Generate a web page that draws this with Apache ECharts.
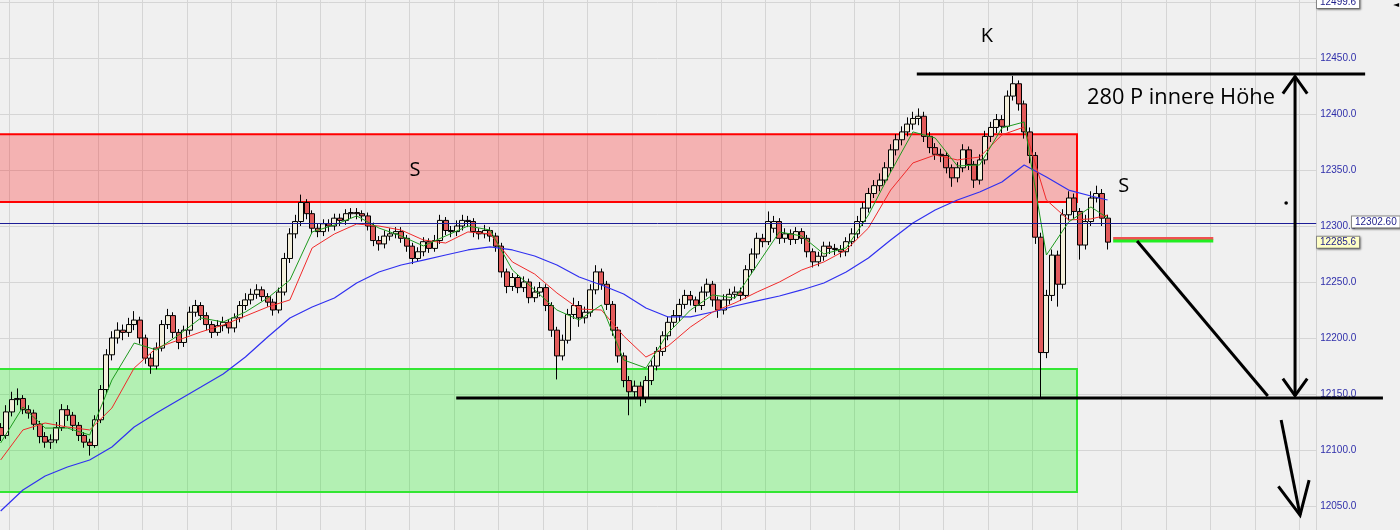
<!DOCTYPE html>
<html><head><meta charset="utf-8">
<script src="https://cdn.jsdelivr.net/npm/echarts@6/dist/echarts.min.js"></script>
<style>html,body{margin:0;padding:0;background:#f0f0f0;overflow:hidden}#c{width:1400px;height:530px}</style>
</head><body><div id="c"></div>
<script>
// ---- candle data (one entry per bar, left to right) ----
const opens = [
12120,12113,12134,12145,12146,12136,12133,12123,12112,12107,
12109,12120,12136,12131,12122,12113,12107,12104,12127,12154,
12185,12200,12207,12205,12212,12216,12200,12182,12175,12191,
12212,12220,12205,12196,12207,12223,12229,12220,12212,12205,
12211,12214,12209,12218,12229,12234,12239,12243,12237,12232,
12225,12241,12271,12293,12304,12321,12311,12298,12295,12302,
12300,12307,12305,12311,12312,12311,12309,12300,12287,12284,
12291,12293,12295,12289,12282,12271,12277,12286,12280,12287,
12305,12296,12295,12300,12305,12304,12295,12293,12296,12291,
12282,12259,12246,12254,12245,12250,12236,12241,12245,12229,
12207,12184,12198,12221,12229,12218,12223,12243,12259,12248,
12230,12207,12184,12162,12152,12157,12146,12162,12175,12188,
12202,12214,12220,12230,12238,12234,12229,12241,12248,12234,
12225,12234,12239,12241,12238,12261,12275,12289,12286,12298,
12304,12289,12293,12288,12295,12289,12277,12268,12273,12282,
12280,12279,12277,12286,12293,12304,12316,12329,12336,12341,
12352,12368,12377,12384,12391,12396,12398,12380,12370,12364,
12363,12352,12343,12352,12368,12355,12341,12359,12380,12388,
12395,12389,12416,12427,12409,12384,12363,12290,12187,12238,
12274,12248,12310,12325,12313,12283,12304,12325,12329,12307];
const closes = [
12113,12134,12145,12146,12136,12133,12123,12112,12107,12109,
12120,12136,12131,12122,12113,12107,12104,12127,12154,12185,
12200,12207,12205,12212,12216,12200,12182,12175,12191,12212,
12220,12205,12196,12207,12223,12229,12220,12212,12205,12211,
12214,12209,12218,12229,12234,12239,12243,12237,12232,12225,
12241,12271,12293,12304,12321,12311,12298,12295,12302,12300,
12307,12305,12311,12312,12311,12309,12300,12287,12284,12291,
12293,12295,12289,12282,12271,12277,12286,12280,12287,12305,
12296,12295,12300,12305,12304,12295,12293,12296,12291,12282,
12259,12246,12254,12245,12250,12236,12241,12245,12229,12207,
12184,12198,12221,12229,12218,12223,12243,12259,12248,12230,
12207,12184,12162,12152,12157,12146,12162,12175,12188,12202,
12214,12220,12230,12238,12234,12229,12241,12248,12234,12225,
12234,12239,12241,12238,12261,12275,12289,12286,12304,12304,
12289,12293,12288,12295,12289,12277,12268,12273,12282,12280,
12279,12277,12286,12293,12304,12316,12329,12336,12341,12352,
12368,12377,12384,12391,12396,12398,12380,12370,12364,12363,
12352,12343,12352,12368,12355,12341,12359,12380,12388,12395,
12389,12416,12427,12409,12384,12363,12290,12187,12238,12274,
12248,12310,12325,12313,12283,12304,12325,12329,12307,12285.6];
const lows = [
12108,12110,12130,12140,12132,12128,12118,12106,12102,12101,
12106,12117,12126,12117,12108,12102,12095,12102,12124,12150,
12180,12195,12198,12201,12207,12195,12177,12168,12172,12188,
12208,12200,12190,12192,12203,12219,12216,12207,12200,12202,
12206,12204,12205,12214,12225,12230,12235,12233,12228,12220,
12222,12238,12267,12289,12300,12306,12293,12290,12291,12295,
12296,12300,12301,12307,12306,12304,12296,12282,12278,12280,
12287,12289,12285,12277,12266,12268,12273,12276,12277,12284,
12292,12290,12291,12296,12299,12290,12288,12289,12286,12277,
12254,12240,12242,12240,12241,12231,12232,12237,12224,12201,
12163,12180,12195,12217,12210,12213,12219,12239,12243,12225,
12202,12178,12156,12131,12147,12139,12142,12158,12171,12184,
12198,12209,12215,12226,12229,12223,12225,12237,12228,12218,
12221,12230,12235,12233,12235,12257,12271,12281,12283,12294,
12284,12285,12283,12284,12284,12272,12263,12264,12269,12275,
12274,12272,12273,12282,12289,12300,12312,12325,12331,12337,
12348,12363,12372,12380,12386,12390,12375,12365,12359,12357,
12347,12335,12339,12348,12350,12334,12337,12355,12375,12383,
12383,12385,12412,12403,12378,12356,12284,12147,12182,12233,
12228,12244,12305,12306,12270,12279,12300,12321,12300,12279];
const highs = [
12124,12140,12152,12155,12149,12140,12136,12126,12116,12114,
12125,12141,12140,12134,12125,12116,12110,12131,12158,12190,
12206,12214,12212,12218,12224,12219,12203,12186,12196,12216,
12226,12223,12208,12211,12228,12234,12232,12223,12215,12216,
12219,12217,12222,12233,12240,12244,12248,12246,12240,12235,
12245,12276,12298,12310,12328,12324,12314,12302,12306,12306,
12311,12311,12315,12316,12316,12314,12312,12303,12291,12296,
12298,12299,12299,12292,12285,12281,12290,12289,12292,12310,
12308,12300,12305,12310,12309,12307,12298,12301,12299,12294,
12285,12262,12258,12257,12255,12253,12246,12250,12248,12232,
12210,12203,12226,12236,12233,12228,12248,12265,12262,12251,
12233,12210,12187,12166,12162,12161,12166,12180,12192,12206,
12219,12225,12235,12243,12242,12237,12246,12253,12251,12237,
12239,12244,12246,12245,12265,12280,12294,12293,12313,12309,
12307,12298,12297,12299,12298,12292,12280,12277,12286,12286,
12284,12283,12290,12298,12309,12321,12334,12341,12347,12357,
12373,12382,12389,12397,12402,12405,12402,12384,12374,12369,
12366,12355,12357,12373,12371,12358,12364,12385,12393,12400,
12399,12421,12434,12430,12412,12388,12366,12294,12243,12279,
12278,12315,12331,12329,12316,12310,12331,12336,12333,12310];

// ---- moving averages read at these bar numbers ----
const maIndex = [0,4,8,12,16,20,24,28,32,36,40,44,48,52,56,60,64,68,72,76,80,84,88,92,96,100,104,108,112,116,120,124,128,132,136,140,144,148,152,156,160,164,168,172,176,180,184,188,192,196,199];
const maBlue = [12045.5,12064.3,12076.8,12084.8,12091.1,12102.7,12120.5,12133,12144.7,12156.2,12167.9,12183,12200.9,12217.9,12227.7,12235.7,12249.1,12258.9,12265.2,12269.6,12274.1,12278.6,12281.3,12278.6,12273.2,12265.2,12254.5,12247.3,12239.3,12226.8,12218.8,12218.8,12223.2,12228.6,12233.1,12237.5,12242.9,12249.1,12258.9,12271.4,12287.5,12302.7,12314.3,12323.2,12330.4,12339.3,12354.5,12343.8,12332.1,12326.8,12323.2];
const maRed = [12091.1,12117.9,12124.1,12120.5,12117.9,12137.5,12173.2,12191.1,12198.2,12205.4,12211.6,12219.6,12227.7,12234,12280.4,12292.9,12301.8,12300,12296.4,12287.5,12284.8,12294.7,12292.9,12267.9,12257.1,12240.2,12225.9,12225,12201.8,12183,12192.9,12209.8,12223.2,12231.3,12241.1,12250,12260.7,12267.9,12278.6,12298.2,12332.1,12356.3,12363.4,12359,12361.6,12381.3,12388.4,12323.2,12305.4,12306.3,12309.8];
const maGreen = [12106.3,12138.4,12119.6,12119.6,12113.4,12162.5,12195.5,12189.3,12202.7,12217.9,12214.3,12223.2,12235.7,12251.8,12294.7,12300.9,12309,12298.2,12291.1,12282.2,12291.1,12300,12296.4,12260.7,12242.9,12225,12216.1,12229.5,12180.4,12173.2,12204.5,12225,12238.4,12235.7,12265.2,12294.7,12291.1,12275,12280.4,12309.8,12348.2,12384,12378.6,12353.6,12354.5,12387.5,12392.9,12274.1,12303.6,12317,12307.2];

// ---- levels and zones ----
const resistanceZone = [12382, 12321.4];
const supportZone = [12172.3, 12062.5];
const zoneEndBar = 200;
const lastPriceLine = 12302.6;
const lastPriceText = '12302.60';
const closeText = '12285.6';
const closeLevel = 12285.6;
const topText = '12499.6';
const redLevel = 12288.8, greenLevel = 12286.6;
const tickLabels = [12050,12100,12150,12200,12250,12300,12350,12400,12450];

const LEAD = 6;            // empty slots before the first bar
const SLOTS = 243;         // total slots on the time axis
const slots = [];
for (let i = 0; i < SLOTS; i++) slots.push('b' + i);

const candles = closes.map((c, k) => [k + LEAD, opens[k], c, lows[k], highs[k]]);
const maLine = arr => arr.map((v, j) => [maIndex[j] + LEAD + 0.5, v]);

const chart = echarts.init(document.getElementById('c'), null, {renderer: 'canvas'});
const option = {
  animation: false,
  backgroundColor: '#f0f0f0',
  grid: {left: -35.5, right: 83.8125, top: -54, bottom: -32, containLabel: false, outerBoundsMode: 'none'},
  xAxis: [
    {type: 'category', data: slots, boundaryGap: true, axisLine: {show: false}, axisTick: {show: false}, axisLabel: {show: false}, splitLine: {show: false}},
    {type: 'value', min: 0, max: SLOTS, interval: 8, axisLine: {show: false}, axisTick: {show: false}, axisLabel: {show: false},
     splitLine: {show: true, lineStyle: {color: '#d5d5d5', width: 1}}}
  ],
  yAxis: {type: 'value', position: 'right', min: 12000, max: 12550, interval: 50,
    axisLine: {show: false}, axisTick: {show: false},
    splitLine: {show: true, lineStyle: {color: '#d5d5d5', width: 1}},
    axisLabel: {margin: 4, color: '#2e2eaa', fontSize: 10, fontFamily: 'Liberation Sans, Arial, sans-serif',
      formatter: v => tickLabels.indexOf(v) >= 0 ? v.toFixed(1) : ''}},
  series: [
    {type: 'line', xAxisIndex: 1, yAxisIndex: 0, data: [[-20, 12300]], symbol: 'none', z: 1, lineStyle: {width: 0},
     markArea: {silent: true, data: [
       [{xAxis: 0, yAxis: resistanceZone[0], itemStyle: {color: 'rgba(255,0,0,0.26)', borderColor: '#ff0000', borderWidth: 2}},
        {xAxis: zoneEndBar, yAxis: resistanceZone[1]}],
       [{xAxis: 0, yAxis: supportZone[0], itemStyle: {color: 'rgba(20,240,20,0.28)', borderColor: '#33e633', borderWidth: 2}},
        {xAxis: zoneEndBar, yAxis: supportZone[1]}]
     ]},
     markLine: {silent: true, symbol: 'none', label: {show: false},
       lineStyle: {color: '#1c1c96', width: 1, type: 'solid'}, data: [{yAxis: lastPriceLine}]}
    },
    {type: 'candlestick', xAxisIndex: 0, yAxisIndex: 0, data: candles, encode: {x: 0, y: [1, 2, 3, 4]},
     barWidth: 5.5, z: 3,
     itemStyle: {color: '#f3efdc', color0: '#e25b5b', borderColor: '#000', borderColor0: '#000', borderWidth: 1}},
    {type: 'line', xAxisIndex: 1, data: maLine(maBlue), showSymbol: false, z: 4, lineStyle: {color: '#3030f0', width: 1.2}},
    {type: 'line', xAxisIndex: 1, data: maLine(maRed), showSymbol: false, z: 4, lineStyle: {color: '#f02a2a', width: 1}},
    {type: 'line', xAxisIndex: 1, data: maLine(maGreen), showSymbol: false, z: 4, lineStyle: {color: '#1e9a1e', width: 1}},
    {type: 'line', xAxisIndex: 1, data: [[206.5, redLevel], [224.5, redLevel]], showSymbol: false, z: 4, lineStyle: {color: '#f05050', width: 3}},
    {type: 'line', xAxisIndex: 1, data: [[206.5, greenLevel], [224.5, greenLevel]], showSymbol: false, z: 4, lineStyle: {color: '#22ee22', width: 3}}
  ]
};
chart.setOption(option);

// ---- drawn annotations, positioned through the chart's own scales ----
const px = (u, p) => chart.convertToPixel({xAxisIndex: 1, yAxisIndex: 0}, [u, p]);
const g = [];
const blk = {stroke: '#000', lineWidth: 3, lineCap: 'butt'};
function seg(a, b) { g.push({type: 'line', shape: {x1: a[0], y1: a[1], x2: b[0], y2: b[1]}, style: blk, z: 10}); }
function head(tip, from, len, ang) {
  const dx = from[0] - tip[0], dy = from[1] - tip[1];
  const d = Math.hypot(dx, dy), ux = dx / d, uy = dy / d;
  const r = a => [tip[0] + len * (ux * Math.cos(a) - uy * Math.sin(a)), tip[1] + len * (ux * Math.sin(a) + uy * Math.cos(a))];
  g.push({type: 'polyline', shape: {points: [r(ang), tip, r(-ang)]}, style: Object.assign({fill: null, lineJoin: 'miter'}, blk), z: 10});
}
function txt(p, s, size, align) {
  g.push({type: 'text', x: p[0], y: p[1], z: 11, style: {text: s, fill: '#000', font: size + 'px "Open Sans", sans-serif',
    align: align || 'center', verticalAlign: 'middle', textAlign: align || 'center', textVerticalAlign: 'middle'}});
}
seg(px(171.2, 12435.7), px(251.8, 12435.7));
seg(px(88.4, 12146.4), px(255, 12146.4));
const vTop = px(239.2, 12433.5), vBot = px(239.2, 12148.5);
seg(vTop, vBot); head(vTop, vBot, 21, 0.62); head(vBot, vTop, 21, 0.62);
seg(px(210.8, 12286.6), px(234.3, 12148.2));
const dA = px(236.7, 12126.8), dB = px(240.1, 12041.9);
seg(dA, dB); head(dB, dA, 36, 0.45);
const dot = px(237.6, 12320.5);
g.push({type: 'circle', shape: {cx: dot[0], cy: dot[1], r: 1.8}, style: {fill: '#000'}, z: 10});
txt(px(183.8, 12469.6), 'K', 20);
txt(px(81.0, 12350), 'S', 20);
txt(px(208.4, 12335.7), 'S', 20);
txt(px(201.8, 12414.3), '280 P innere Höhe', 21.8, 'left');

const lbl = (p, s, bg) => g.push({type: 'text', x: p[0], y: p[1], z: 12, style: {text: s, fill: '#1e1e8a',
  font: '10px "Liberation Sans", Arial, sans-serif', align: 'left', verticalAlign: 'middle', textAlign: 'left', textVerticalAlign: 'middle',
  backgroundColor: bg, borderColor: '#8a8a8a', borderWidth: 1, padding: [1, 3, 0, 3],
  shadowColor: 'rgba(0,0,0,0.35)', shadowBlur: 2, shadowOffsetX: 1, shadowOffsetY: 1}});
const lp = px(0, lastPriceLine), cp = px(0, closeLevel), tp = px(0, 12499.6);
lbl([1352, lp[1] - 1], lastPriceText, '#ffffff');
lbl([1317, cp[1]], closeText, '#ffffc6');
lbl([1317, tp[1]], topText, '#ffffff');
g.push({type: 'text', x: 1393, y: 5, z: 12, style: {text: '◄', fill: '#000', font: '8px "DejaVu Sans"', align: 'left', verticalAlign: 'middle', textAlign: 'left', textVerticalAlign: 'middle'}});
chart.setOption({graphic: {elements: g}});
</script>
</body></html>
